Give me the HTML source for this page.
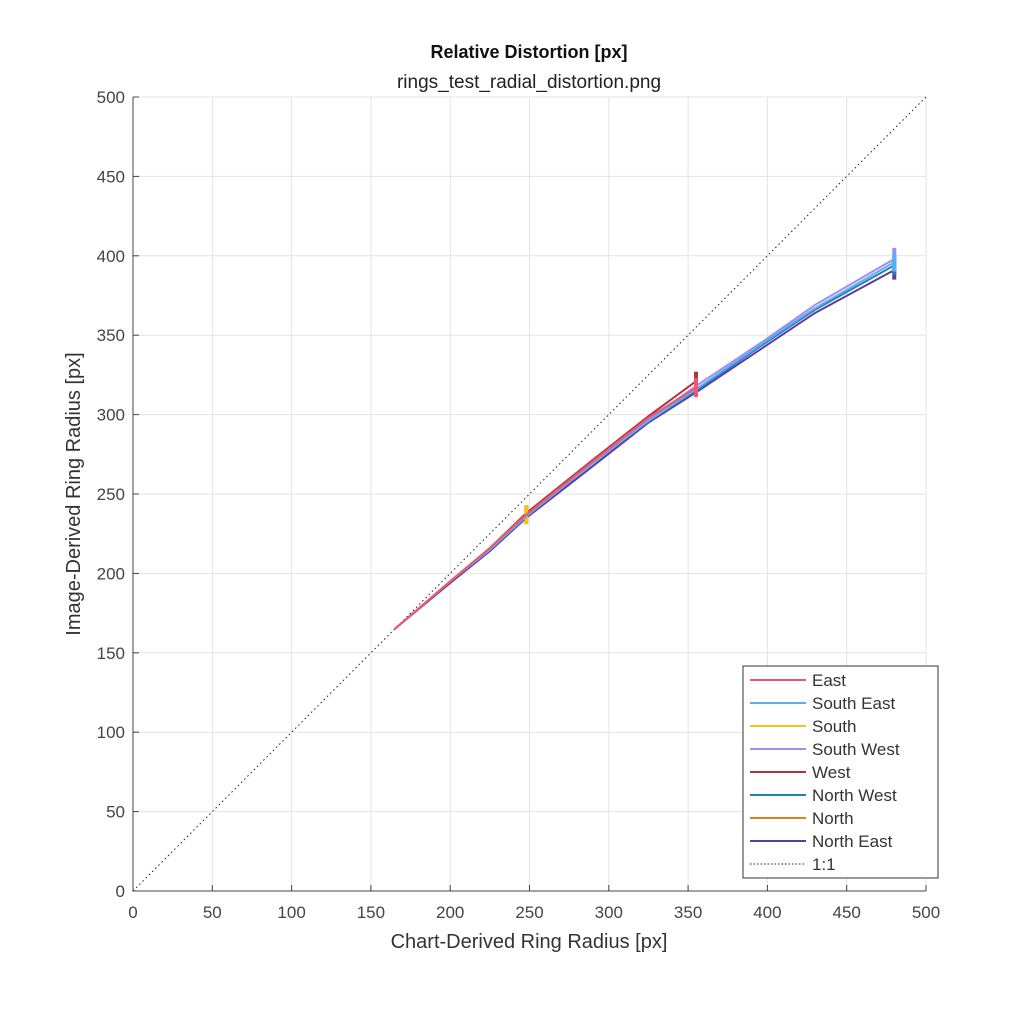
<!DOCTYPE html>
<html><head><meta charset="utf-8"><style>
body{margin:0;background:#fff;font-family:"Liberation Sans",sans-serif}
</style></head><body>
<svg id="chart" width="1024" height="1024" xmlns="http://www.w3.org/2000/svg" font-family="Liberation Sans, sans-serif">
<rect width="1024" height="1024" fill="#fff"/>
<text x="529" y="58" text-anchor="middle" font-size="18" font-weight="bold" fill="#111">Relative Distortion [px]</text>
<text x="529" y="88" text-anchor="middle" font-size="19" fill="#222">rings_test_radial_distortion.png</text>
<g id="grid"></g><g id="ticks"></g><g id="series"></g><g id="legend"></g>
<text x="529" y="948" text-anchor="middle" font-size="20" fill="#333">Chart-Derived Ring Radius [px]</text>
<text transform="translate(80,494) rotate(-90)" text-anchor="middle" font-size="20" fill="#333">Image-Derived Ring Radius [px]</text>
</svg>
<script>
const ticks=[0,50,100,150,200,250,300,350,400,450,500];
const seriesNames=["East","South East","South","South West","West","North West","North","North East"];
const seriesColors=["#f2566f","#5aaef2","#f7c31c","#a48cf5","#b2303f","#1f80b5","#e27d22","#5c3c9c"];
const xShort=[165,200,225,248];
const xMid=[165,200,225,248,288,325,355];
const xLong=[165,200,225,248,288,325,355,400,430,480];
const yEast=[165,195,216,237,269,298,317];
const ySouthEast=[165,195,215,236,268,296,316,347,367,396];
const ySouth=[165,195,216,237];
const ySouthWest=[165,195,215,236,268,297,318,348,369,398];
const yWest=[165,195,216,238,270,299,321];
const yNorthWest=[165,195,215,236,268,296,315,346,366,394];
const yNorth=[165,195,216,237];
const yNorthEast=[165,194,214,235,266,295,314,344,364,391];
const xs=[xMid,xLong,xShort,xLong,xMid,xLong,xShort,xLong];
const ys=[yEast,ySouthEast,ySouth,ySouthWest,yWest,yNorthWest,yNorth,yNorthEast];
const errs=[6,6,6,7,6,6,6,6];
const X=v=>133+v*(926-133)/500, Y=v=>891-v*(891-97)/500;
const NS="http://www.w3.org/2000/svg";
function mk(t,a,p){const e=document.createElementNS(NS,t);for(const k in a)e.setAttribute(k,a[k]);p.appendChild(e);return e;}
const g=document.getElementById('grid'),tk=document.getElementById('ticks'),sg=document.getElementById('series'),lg=document.getElementById('legend');
ticks.forEach(t=>{
 const v=mk('line',{x1:X(t),x2:X(t),y1:97,y2:891,stroke:'#e3e3e3'},g);
 
 
 const h=mk('line',{x1:133,x2:926,y1:Y(t),y2:Y(t),stroke:'#e3e3e3'},g);
 
 
 const xl=mk('text',{x:X(t),y:918,'text-anchor':'middle','font-size':17,fill:'#444'},tk);xl.textContent=t;
 
 
 const yl=mk('text',{x:125,y:Y(t)+6,'text-anchor':'end','font-size':17,fill:'#444'},tk);yl.textContent=t;
 
 
 mk('line',{x1:X(t),x2:X(t),y1:891,y2:885,stroke:'#444'},tk);
 mk('line',{x1:133,x2:139,y1:Y(t),y2:Y(t),stroke:'#444'},tk);
});
const ax=mk('path',{d:`M133 97V891H926`,fill:'none',stroke:'#444'},tk);


const ref=mk('line',{x1:X(0),y1:Y(0),x2:X(500),y2:Y(500),stroke:'#222','stroke-dasharray':'1.5 3'},sg);


for(let i=ys.length-1;i>=0;i--){
 const yy=ys[i];
 const d=yy.map((v,j)=>(j?'L':'M')+X(xs[i][j])+' '+Y(v)).join('');
 const p=mk('path',{d,fill:'none',stroke:seriesColors[i],'stroke-width':2},sg);
 
 
 const n=yy.length-1,ex=X(xs[i][n]),ey=Y(yy[n]);
 const e=mk('line',{x1:ex,x2:ex,y1:Y(yy[n]+errs[i]),y2:Y(yy[n]-errs[i]),stroke:seriesColors[i],'stroke-width':4},sg);
 
 
}
const box=mk('rect',{x:743,y:666,width:195,height:212,fill:'#fff',stroke:'#333'},lg);


seriesNames.concat(['1:1']).forEach((n,i)=>{
 const y=680+i*23;
 const l=mk('line',{x1:750,x2:806,y1:y,y2:y,stroke:i<8?seriesColors[i]:'#222','stroke-width':i<8?2:1},lg);
 if(i==8)l.setAttribute('stroke-dasharray','1.5 2');
 const t=mk('text',{x:812,y:y+6,'font-size':17,fill:'#333'},lg);t.textContent=n;
 
 
});
</script>
</body></html>
